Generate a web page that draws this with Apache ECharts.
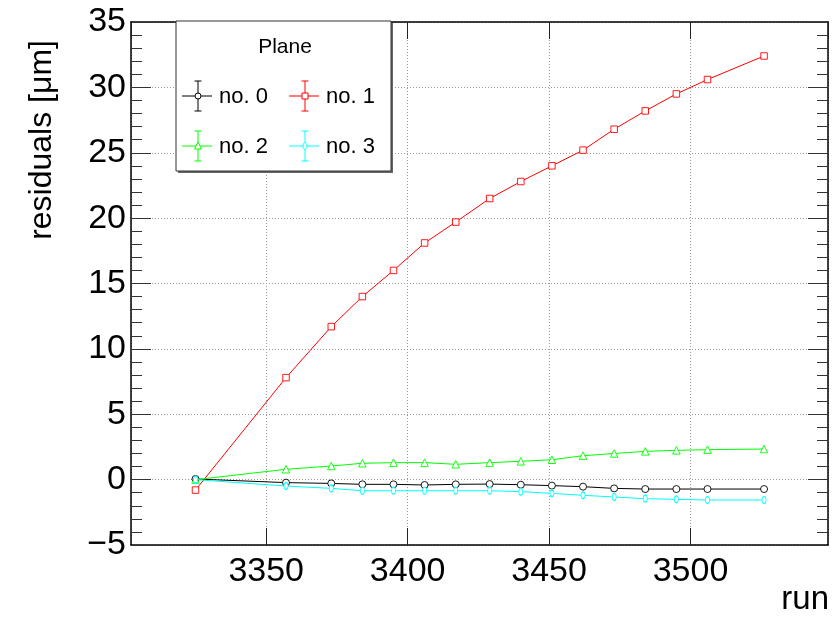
<!DOCTYPE html>
<html>
<head>
<meta charset="utf-8">
<script src="https://cdn.jsdelivr.net/npm/echarts@6/dist/echarts.min.js"></script>
<style>
html,body{margin:0;padding:0;background:#fff;}
#chart{width:833px;height:621px;}
</style>
</head>
<body>
<div id="chart"></div>
<script>
// ---- data ----
const runs   = [3325, 3357, 3373, 3384, 3395, 3406, 3417, 3429, 3440, 3451, 3462, 3473, 3484, 3495, 3506, 3526];
const plane0 = [0.05, -0.23, -0.29, -0.36, -0.36, -0.41, -0.36, -0.34, -0.39, -0.46, -0.54, -0.67, -0.72, -0.72, -0.72, -0.72];
const plane1 = [-0.8, 7.8, 11.7, 14.0, 16.0, 18.1, 19.7, 21.5, 22.8, 24.0, 25.2, 26.8, 28.2, 29.5, 30.6, 32.4];
const plane2 = [0.0, 0.79, 1.04, 1.25, 1.3, 1.3, 1.17, 1.3, 1.4, 1.52, 1.83, 2.0, 2.16, 2.24, 2.29, 2.34];
const plane3 = [0.0, -0.49, -0.67, -0.85, -0.85, -0.85, -0.85, -0.85, -0.92, -1.05, -1.2, -1.33, -1.46, -1.51, -1.56, -1.56];
const seriesNames = ['no. 0', 'no. 1', 'no. 2', 'no. 3'];
const legendTitle = 'Plane';
const xTitle = 'run';
const yTitle = 'residuals [\u03BCm]';
const xMin = 3302.2, xMax = 3548.6;
const yMin = -5, yMax = 35, yStep = 5;

const FONT = '"Liberation Sans", Arial, Helvetica, sans-serif';
const pair = (xs, ys) => xs.map((x, i) => [x, ys[i]]);
const fmtY = v => (v < 0 ? '\u2212' + (-v) : String(v));
const fmtX = v => String(Math.round(v));

const chart = echarts.init(document.getElementById('chart'), null, {renderer: 'canvas'});

function mkSeries(name, data, color, symbol, size, z) {
  return {
    name: name, type: 'line', data: data, xAxisIndex: 0, yAxisIndex: 0,
    symbol: symbol, symbolSize: size, showSymbol: true,
    lineStyle: {color: color, width: 1},
    itemStyle: {color: '#fff', borderColor: color, borderWidth: 0.9},
    emphasis: {disabled: true},
    animation: false, z: z
  };
}

const frameColor = '#000';
const option = {
  animation: false,
  backgroundColor: '#fff',
  grid: {left: 131, right: 5, top: 22, bottom: 76, containLabel: false},
  xAxis: [
    {
      type: 'value', position: 'bottom', min: xMin, max: xMax, splitNumber: 5,
      axisLine: {show: true, onZero: false, lineStyle: {color: frameColor, width: 1.5}},
      axisTick: {show: true, inside: true, length: 17, lineStyle: {color: '#222', width: 1}},
      axisLabel: {show: true, showMinLabel: false, showMaxLabel: false, fontSize: 34, fontFamily: FONT, color: '#000', margin: 10, formatter: fmtX},
      splitLine: {show: true, lineStyle: {color: '#999', type: [1, 2], width: 1}},
      minorTick: {show: false}
    },
    {
      type: 'value', position: 'top', min: xMin, max: xMax, splitNumber: 5,
      axisLine: {show: true, onZero: false, lineStyle: {color: frameColor, width: 1.5}},
      axisTick: {show: true, inside: true, length: 17, lineStyle: {color: '#222', width: 1}},
      axisLabel: {show: false},
      splitLine: {show: false}
    }
  ],
  yAxis: [
    {
      type: 'value', position: 'left', min: yMin, max: yMax, interval: yStep,
      axisLine: {show: true, onZero: false, lineStyle: {color: frameColor, width: 1.5}},
      axisTick: {show: true, inside: true, length: 20, lineStyle: {color: '#333', width: 1}},
      minorTick: {show: true, splitNumber: 5, length: 11, lineStyle: {color: '#333', width: 1}},
      axisLabel: {show: true, fontSize: 34, fontFamily: FONT, color: '#000', margin: 5, formatter: fmtY},
      splitLine: {show: true, lineStyle: {color: '#999', type: [1, 2], width: 1}}
    },
    {
      type: 'value', position: 'right', min: yMin, max: yMax, interval: yStep,
      axisLine: {show: true, onZero: false, lineStyle: {color: frameColor, width: 1.5}},
      axisTick: {show: true, inside: true, length: 20, lineStyle: {color: '#333', width: 1}},
      minorTick: {show: true, splitNumber: 5, length: 11, lineStyle: {color: '#333', width: 1}},
      axisLabel: {show: false},
      splitLine: {show: false}
    }
  ],
  series: [
    mkSeries(seriesNames[0], pair(runs, plane0), '#000000', 'circle', 7, 3),
    mkSeries(seriesNames[1], pair(runs, plane1), '#ff0000', 'rect', 6.5, 4),
    mkSeries(seriesNames[2], pair(runs, plane2), '#00ff00', 'triangle', 7.5, 5),
    mkSeries(seriesNames[3], pair(runs, plane3), '#00ffff', 'circle', [4, 7], 6)
  ],
  graphic: []
};

// ---- legend box (ROOT TLegend style) ----
const L = {x: 176, y: 21, w: 215, h: 150};
const g = [];
g.push({type: 'rect', z: 100, shape: {x: L.x + 2, y: L.y + 2, width: L.w, height: L.h}, style: {fill: '#666'}});
g.push({type: 'rect', z: 101, shape: {x: L.x, y: L.y, width: L.w, height: L.h}, style: {fill: '#fff', stroke: '#333', lineWidth: 1}});
g.push({type: 'text', z: 102, x: 285, y: 47, style: {text: legendTitle, font: '21px ' + FONT, fill: '#000', align: 'center', verticalAlign: 'middle'}});
const entries = [
  {cx: 198, cy: 96, color: '#000000', mk: 'circle', label: seriesNames[0]},
  {cx: 305, cy: 96, color: '#ff0000', mk: 'rect', label: seriesNames[1]},
  {cx: 198, cy: 146, color: '#00ff00', mk: 'triangle', label: seriesNames[2]},
  {cx: 305, cy: 146, color: '#00ffff', mk: 'ellipse', label: seriesNames[3]}
];
entries.forEach(e => {
  const st = {stroke: e.color, lineWidth: 1};
  g.push({type: 'line', z: 102, shape: {x1: e.cx - 16, y1: e.cy, x2: e.cx + 14, y2: e.cy}, style: st});
  g.push({type: 'line', z: 102, shape: {x1: e.cx, y1: e.cy - 15, x2: e.cx, y2: e.cy + 15}, style: st});
  g.push({type: 'line', z: 102, shape: {x1: e.cx - 3.5, y1: e.cy - 15, x2: e.cx + 3.5, y2: e.cy - 15}, style: st});
  g.push({type: 'line', z: 102, shape: {x1: e.cx - 3.5, y1: e.cy + 15, x2: e.cx + 3.5, y2: e.cy + 15}, style: st});
  const ms = {stroke: e.color, fill: '#fff', lineWidth: 1};
  if (e.mk === 'circle') g.push({type: 'circle', z: 103, shape: {cx: e.cx, cy: e.cy, r: 3}, style: ms});
  if (e.mk === 'rect') g.push({type: 'rect', z: 103, shape: {x: e.cx - 3, y: e.cy - 3, width: 6, height: 6}, style: ms});
  if (e.mk === 'triangle') g.push({type: 'polygon', z: 103, shape: {points: [[e.cx, e.cy - 4], [e.cx - 3.5, e.cy + 3], [e.cx + 3.5, e.cy + 3]]}, style: ms});
  if (e.mk === 'ellipse') g.push({type: 'ellipse', z: 103, shape: {cx: e.cx, cy: e.cy, rx: 2, ry: 3.5}, style: ms});
  g.push({type: 'text', z: 103, x: e.cx + 21, y: e.cy + 1, style: {text: e.label, font: '22px ' + FONT, fill: '#000', align: 'left', verticalAlign: 'middle'}});
});
// axis titles (ROOT style, aligned to axis end)
g.push({type: 'text', z: 50, x: 829, y: 600, style: {text: xTitle, font: '33px ' + FONT, fill: '#000', align: 'right', verticalAlign: 'middle'}});
g.push({type: 'text', z: 50, x: 42, y: 40, rotation: Math.PI / 2, style: {text: yTitle, font: '32px ' + FONT, fill: '#000', align: 'right', verticalAlign: 'middle'}});
option.graphic = g;

chart.setOption(option);
</script>
</body>
</html>
